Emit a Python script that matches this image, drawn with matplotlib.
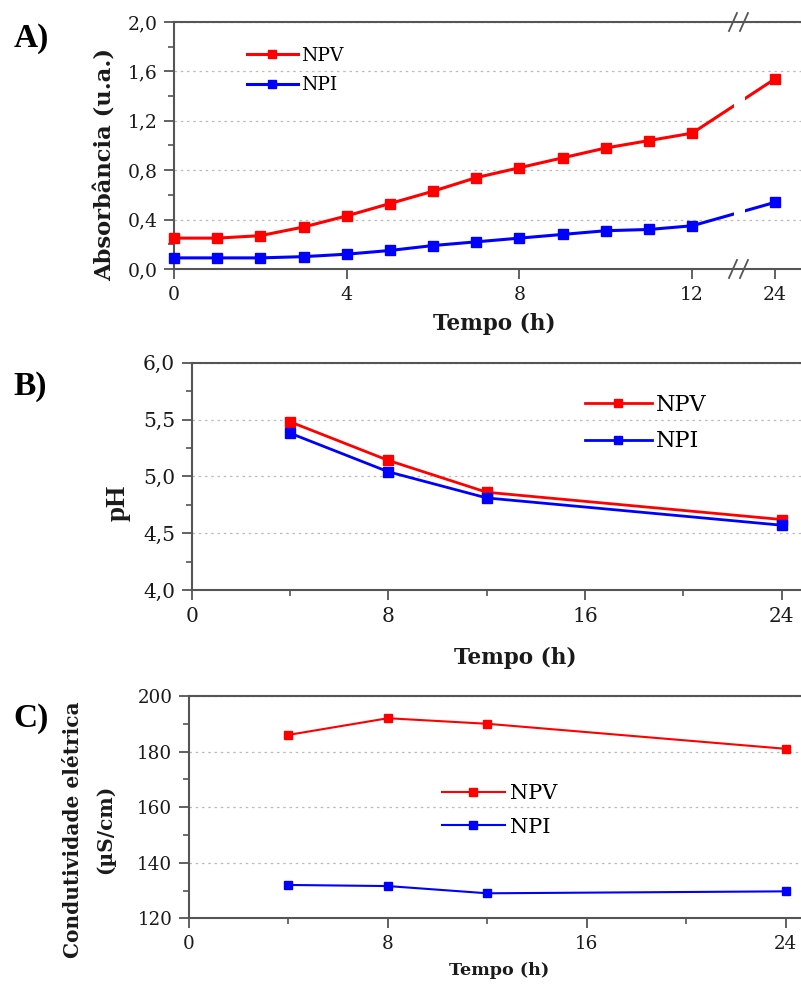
import numpy as np
import matplotlib
matplotlib.use("Agg")
import matplotlib.pyplot as plt
from matplotlib.ticker import FixedLocator, MultipleLocator, FuncFormatter
from matplotlib.patches import Rectangle
import matplotlib.transforms as mtransforms

# ---------------- data ----------------
# Panel A: absorbance vs time
abs_time = [0, 1, 2, 3, 4, 5, 6, 7, 8, 9, 10, 11, 12, 24]
abs_npv = [0.25, 0.25, 0.27, 0.34, 0.43, 0.53, 0.63, 0.74, 0.82, 0.90, 0.98, 1.04, 1.10, 1.54]
abs_npi = [0.09, 0.09, 0.09, 0.10, 0.12, 0.15, 0.19, 0.22, 0.25, 0.28, 0.31, 0.32, 0.35, 0.54]
abs_xticks = [0, 4, 8, 12, 24]

# Panel B: pH vs time
ph_time = [4, 8, 12, 24]
ph_npv = [5.48, 5.14, 4.86, 4.62]
ph_npi = [5.38, 5.04, 4.81, 4.57]

# Panel C: electrical conductivity vs time
ce_time = [4, 8, 12, 24]
ce_npv = [186.0, 192.0, 190.0, 181.0]
ce_npi = [132.0, 131.6, 129.0, 129.7]

series_names = ["NPV", "NPI"]
RED = "#ff0000"
BLUE = "#0000ff"
SPINE = "#555555"
TXT = "#1a1a1a"
SERIF = "DejaVu Serif"
TIMES = "Liberation Serif"

plt.rcParams["font.family"] = SERIF

fig = plt.figure(figsize=(8.01, 9.86), dpi=100)

def comma(dec):
    def f(v, pos):
        s = f"{v:.{dec}f}"
        return s.replace(".", ",")
    return FuncFormatter(f)

def style(ax, tick_size):
    for s in ["left", "bottom", "top"]:
        ax.spines[s].set_color(SPINE)
        ax.spines[s].set_linewidth(1.5)
    ax.spines["right"].set_visible(False)
    ax.tick_params(which="major", direction="out", length=7, width=1.3,
                   color=SPINE, labelsize=tick_size, labelcolor=TXT, pad=5)
    ax.tick_params(which="minor", direction="out", length=4, width=1.2, color=SPINE)
    ax.tick_params(top=False, right=False, which="both")
    ax.grid(axis="y", which="major", linestyle=(0, (2, 3)), color="#bbbbbb", linewidth=0.9)
    ax.set_axisbelow(True)

# ---------------- Panel A ----------------
def fwd(x):
    x = np.asarray(x, dtype=float)
    return np.where(x <= 12, x, 12 + (x - 12) * 0.16)

def inv(y):
    y = np.asarray(y, dtype=float)
    return np.where(y <= 12, y, 12 + (y - 12) / 0.16)

axA = fig.add_axes([174 / 801, 1 - 269 / 986, 1 - 174 / 801, (269 - 22) / 986])
axA.set_xscale("function", functions=(fwd, inv))
axA.set_xlim(0, 27.75)
axA.set_ylim(0, 2.0)
style(axA, 13.5)
axA.xaxis.set_major_locator(FixedLocator(abs_xticks))
axA.xaxis.set_minor_locator(FixedLocator([]))
axA.xaxis.set_major_formatter(FuncFormatter(lambda v, p: f"{v:g}"))
axA.yaxis.set_major_locator(MultipleLocator(0.4))
axA.yaxis.set_minor_locator(MultipleLocator(0.2))
axA.yaxis.set_major_formatter(comma(1))

gap_lo, gap_hi = 18.0, 19.6
for ys, col, name in [(abs_npv, RED, "NPV"), (abs_npi, BLUE, "NPI")]:
    for xa, xb in [(-1, gap_lo), (gap_hi, 40)]:
        ln, = axA.plot(abs_time, ys, color=col, lw=2.2)
        clip = Rectangle((xa, -1), xb - xa, 5, transform=axA.transData)
        ln.set_clip_path(clip)
    axA.plot(abs_time, ys, color=col, lw=0, marker="s", ms=7, clip_on=False, zorder=3)
    axA.plot([], [], color=col, lw=2.2, marker="s", ms=6, label=name)

# break marks on top and bottom spines
brk = 18.7
for yv in [0, 1]:
    xc = axA.transData.transform((brk, 0))[0]
    ybase = axA.transAxes.transform((0, yv))[1]
    for dx in [-5.5, 5.5]:
        line = plt.Line2D([xc + dx - 4, xc + dx + 4], [ybase - 9, ybase + 9],
                          color=SPINE, lw=1.3, transform=mtransforms.IdentityTransform())
        line.set_clip_on(False)
        fig.add_artist(line)

axA.set_ylabel("Absorbância (u.a.)", fontsize=16.3, fontweight="bold", color=TXT)
axA.yaxis.set_label_coords(-0.091, 0.425)
axA.set_xlabel("Tempo (h)", fontsize=15.5, fontweight="bold", color=TXT)
axA.xaxis.set_label_coords(0.51, -0.178)
axA.legend(loc="upper left", bbox_to_anchor=(247 / 801, 1 - 47 / 986),
           bbox_transform=fig.transFigure, frameon=False, fontsize=13.5,
           handlelength=2.7, handletextpad=0.2, labelspacing=0.6,
           borderpad=0, borderaxespad=0)

# ---------------- Panel B ----------------
axB = fig.add_axes([191.7 / 801, 1 - 590 / 986, 1 - 191.7 / 801, (590 - 362.7) / 986])
axB.set_xlim(0, 24.78)
axB.set_ylim(4.0, 6.0)
style(axB, 14.5)
axB.xaxis.set_major_locator(MultipleLocator(8))
axB.xaxis.set_minor_locator(MultipleLocator(4))
axB.yaxis.set_major_locator(MultipleLocator(0.5))
axB.yaxis.set_minor_locator(MultipleLocator(0.25))
axB.yaxis.set_major_formatter(comma(1))
axB.plot(ph_time, ph_npv, color=RED, lw=2.0, marker="s", ms=7, label="NPV", clip_on=False)
axB.plot(ph_time, ph_npi, color=BLUE, lw=2.0, marker="s", ms=7, label="NPI", clip_on=False)
axB.set_ylabel("pH", fontsize=19.5, fontweight="bold", family=TIMES, color=TXT)
axB.yaxis.set_label_coords(-0.101, 0.384)
axB.set_xlabel("Tempo (h)", fontsize=15.5, fontweight="bold", color=TXT)
axB.xaxis.set_label_coords(0.531, -0.25)
axB.legend(loc="upper left", bbox_to_anchor=(585 / 801, 1 - 394 / 986),
           bbox_transform=fig.transFigure, frameon=False, fontsize=16,
           handlelength=3.0, handletextpad=0.2, labelspacing=0.65,
           borderpad=0, borderaxespad=0, markerscale=0.8)

# ---------------- Panel C ----------------
axC = fig.add_axes([189 / 801, 1 - 918.3 / 986, 1 - 189 / 801, (918.3 - 696) / 986])
axC.set_xlim(0, 24.62)
axC.set_ylim(120, 200)
style(axC, 13.2)
axC.xaxis.set_major_locator(MultipleLocator(8))
axC.xaxis.set_minor_locator(MultipleLocator(4))
axC.yaxis.set_major_locator(MultipleLocator(20))
axC.yaxis.set_minor_locator(MultipleLocator(10))
axC.plot(ce_time, ce_npv, color=RED, lw=1.5, marker="s", ms=5.5, label="NPV", clip_on=False)
axC.plot(ce_time, ce_npi, color=BLUE, lw=1.5, marker="s", ms=5.5, label="NPI", clip_on=False)
axC.set_ylabel("Condutividade elétrica\n(µS/cm)", fontsize=14.5, fontweight="bold",
               color=TXT, linespacing=1.75)
axC.yaxis.set_label_coords(-0.121, 0.40)
axC.set_xlabel("Tempo (h)", fontsize=12.6, fontweight="bold", color=TXT)
axC.xaxis.set_label_coords(0.506, -0.197)
axC.legend(loc="upper left", bbox_to_anchor=(442 / 801, 1 - 784 / 986),
           bbox_transform=fig.transFigure, frameon=False, fontsize=15,
           handlelength=3.0, handletextpad=0.25, labelspacing=0.7,
           borderpad=0, borderaxespad=0)

# panel letters
for lab, (px, py) in zip(["A)", "B)", "C)"], [(31, 38), (30, 386), (31, 718)]):
    fig.text(px / 801, 1 - py / 986, lab, fontsize=24, fontweight="bold",
             family=TIMES, ha="center", va="center", color="black")

fig.savefig("out.png", dpi=100)
